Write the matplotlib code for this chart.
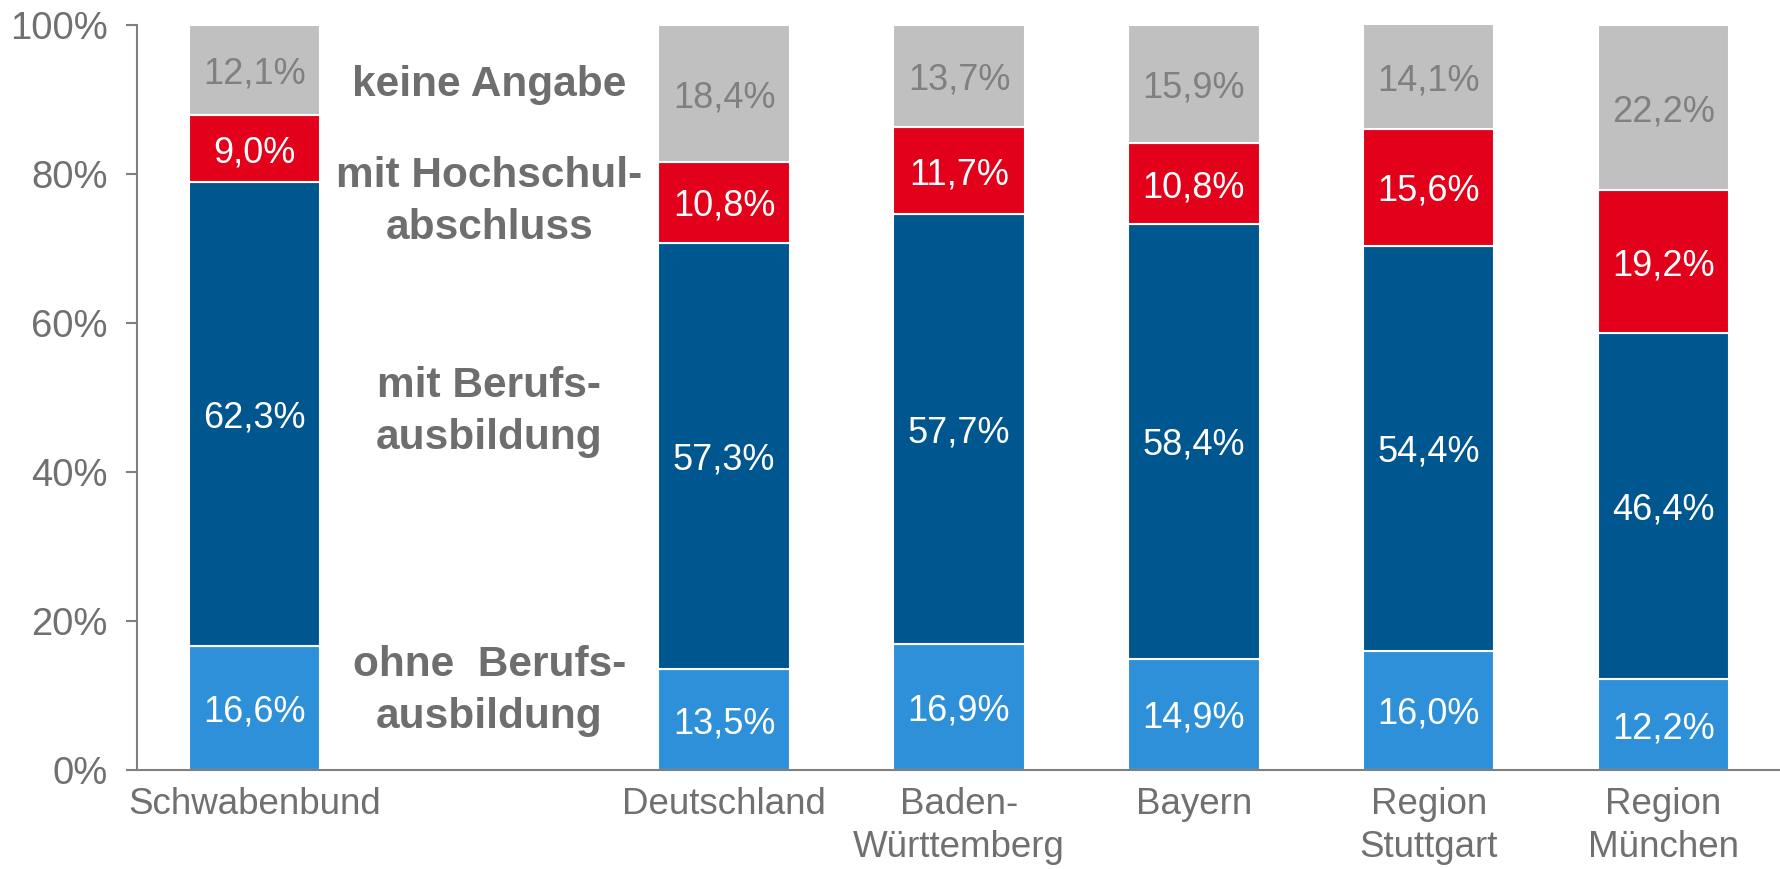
import matplotlib
matplotlib.use("Agg")
import matplotlib.pyplot as plt
import numpy as np

categories = ["Schwabenbund", "Deutschland", "Baden-\nWürttemberg", "Bayern",
              "Region\nStuttgart", "Region\nMünchen"]
ohne_beruf = [16.6, 13.5, 16.9, 14.9, 16.0, 12.2]
mit_beruf = [62.3, 57.3, 57.7, 58.4, 54.4, 46.4]
hochschule = [9.0, 10.8, 11.7, 10.8, 15.6, 19.2]
keine_angabe = [12.1, 18.4, 13.7, 15.9, 14.1, 22.2]

series_names = ["ohne  Berufs-\nausbildung", "mit Berufs-\nausbildung",
                "mit Hochschul-\nabschluss", "keine Angabe"]
series = [ohne_beruf, mit_beruf, hochschule, keine_angabe]
colors = ["#2E90D8", "#00568E", "#E2001A", "#C0C0C0"]
text_colors = ["white", "white", "white", "#808080"]
legend_y = [10.6, 48.1, 76.2, 92.0]

plt.rcParams['font.family'] = ['Liberation Sans', 'DejaVu Sans']
GRAY = "#707070"

fig = plt.figure(figsize=(17.81, 8.69), dpi=100)
ax = fig.add_axes([137/1781, 99/869, 1 - 137/1781, (770-25)/869])

x = np.array([0, 2, 3, 4, 5, 6], dtype=float)
width = 0.56
bottom = np.zeros(len(categories))
for vals, col, tcol in zip(series, colors, text_colors):
    vals = np.array(vals)
    ax.bar(x, vals, width, bottom=bottom, color=col, edgecolor="white", linewidth=1.5)
    for xi, b, v in zip(x, bottom, vals):
        ax.text(xi, b + v / 2, f"{v:.1f}%".replace(".", ","), ha="center",
                va="center_baseline", color=tcol, fontsize=26)
    bottom += vals

for name, yv in zip(series_names, legend_y):
    ax.text(1.0, yv, name, ha="center", va="center", fontsize=30.5, fontweight="bold",
            color="#6E6E6E", linespacing=1.38)

ax.set_xlim(-0.5, 6.5)
ax.set_ylim(0, 100)
ax.set_yticks(np.arange(0, 101, 20))
ax.set_yticklabels([f"{v}%" for v in range(0, 101, 20)], fontsize=27.5, color=GRAY)
ax.set_xticks(x)
ax.set_xticklabels(categories, fontsize=26.5, color=GRAY, linespacing=1.3)
ax.tick_params(axis="x", length=0, pad=12)
ax.tick_params(axis="y", length=8, width=1.5, color="#808080", direction="out", pad=13)
for s in ["top", "right"]:
    ax.spines[s].set_visible(False)
for s in ["left", "bottom"]:
    ax.spines[s].set_color("#808080")
    ax.spines[s].set_linewidth(1.5)

fig.savefig("out.png", dpi=100)
